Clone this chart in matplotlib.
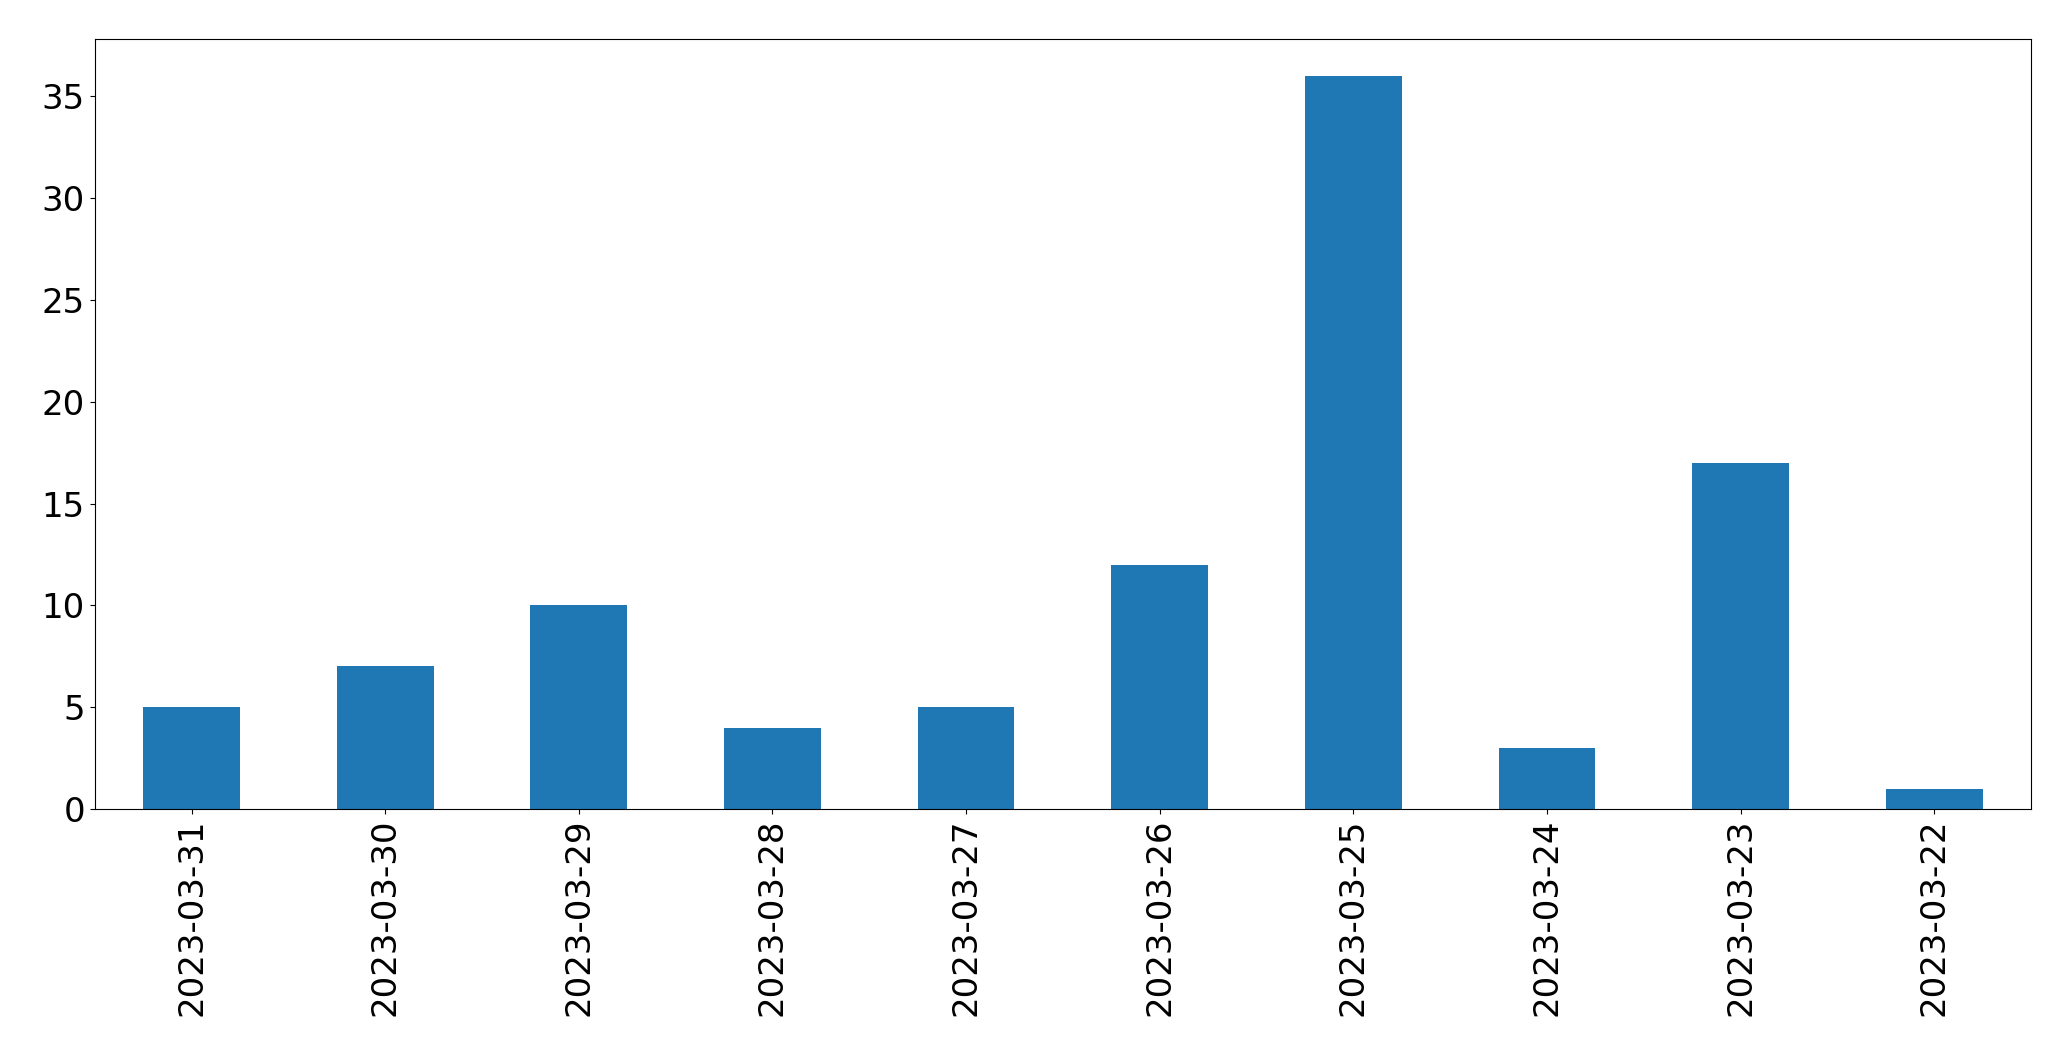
import matplotlib
matplotlib.use("Agg")
import matplotlib.pyplot as plt

dates = ["2023-03-31", "2023-03-30", "2023-03-29", "2023-03-28", "2023-03-27",
         "2023-03-26", "2023-03-25", "2023-03-24", "2023-03-23", "2023-03-22"]
counts = [5, 7, 10, 4, 5, 12, 36, 3, 17, 1]

fig, ax = plt.subplots(figsize=(20.71, 10.61), dpi=100)
fig.subplots_adjust(left=94.7 / 2071, right=2031 / 2071, top=1 - 39.3 / 1061, bottom=1 - 809 / 1061)

pos = range(len(dates))
ax.bar(pos, counts, width=0.5, color="#1f77b4")
ax.set_xlim(-0.5, len(dates) - 0.5)
ax.set_ylim(0, max(counts) * 1.05)
ax.set_xticks(list(pos))
ax.set_xticklabels(dates, rotation=90)
ax.tick_params(axis="both", labelsize=24.5)

plt.savefig("out.png", dpi=100)
